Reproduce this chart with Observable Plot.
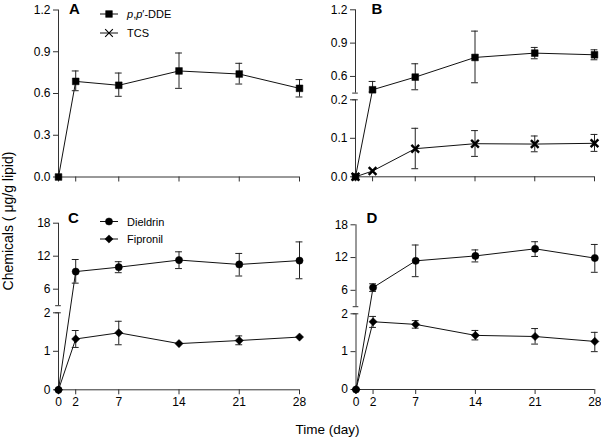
<!DOCTYPE html>
<html><head><meta charset="utf-8">
<script src="https://cdn.jsdelivr.net/npm/d3@7"></script>
<script src="https://cdn.jsdelivr.net/npm/@observablehq/plot@0.6"></script>
<style>
body{margin:0;background:#fff}
#wrap{position:relative;width:601px;height:438px;font-family:"Liberation Sans",Arial,sans-serif}
#wrap svg{position:absolute;left:0;top:0;overflow:visible}
</style>
</head><body><div id="wrap"></div>
<script>
// ---- data ----
const days = [0, 2, 7, 14, 21, 28];

// Panel A
const ddeA    = [0, 0.687, 0.659, 0.762, 0.740, 0.637];
const ddeA_hi = [null, 0.762, 0.747, 0.891, 0.817, 0.700];
const ddeA_lo = [null, 0.620, 0.580, 0.637, 0.668, 0.575];

// Panel B
const ddeB    = [0, 0.480, 0.594, 0.771, 0.810, 0.795];
const ddeB_hi = [null, 0.555, 0.714, 1.008, 0.861, 0.840];
const ddeB_lo = [null, 0.460, 0.480, 0.543, 0.759, 0.750];
const tcsB    = [0, 0.015, 0.073, 0.086, 0.085, 0.087];
const tcsB_hi = [null, null, 0.126, 0.120, 0.106, 0.110];
const tcsB_lo = [null, null, 0.021, 0.053, 0.065, 0.066];

// Panel C
const dieC    = [0, 9.2, 10.0, 11.3, 10.5, 11.2];
const dieC_hi = [null, 11.4, 11.0, 12.8, 12.5, 14.6];
const dieC_lo = [null, 7.1, 9.0, 9.75, 8.4, 7.9];
const fipC    = [0, 1.32, 1.48, 1.20, 1.28, 1.37];
const fipC_hi = [null, 1.54, 1.78, null, 1.40, null];
const fipC_lo = [null, 1.10, 1.17, null, 1.17, null];

// Panel D
const dieD    = [0, 6.5, 11.4, 12.3, 13.6, 11.9];
const dieD_hi = [null, 7.2, 14.3, 13.4, 14.9, 14.4];
const dieD_lo = [null, 5.8, 8.5, 11.2, 12.2, 9.3];
const fipD    = [0, 1.79, 1.72, 1.43, 1.40, 1.27];
const fipD_hi = [null, 1.93, 1.82, 1.56, 1.61, 1.51];
const fipD_lo = [null, 1.64, 1.62, 1.31, 1.20, 1.00];

// tick labels
const yTicksA = [0, 0.3, 0.6, 0.9, 1.2];
const yTicksB = [0, 0.1, 0.2, 0.6, 0.9, 1.2];
const yTicksCD = [0, 1, 2, 6, 12, 18];
const legendAB = ["p,p′-DDE", "TCS"];
const legendCD = ["Dieldrin", "Fipronil"];

// ---- helpers ----
const W = 601, H = 438;
const wrap = document.getElementById("wrap");
const series = (v, lo, hi) => days.map((d, i) => ({day: d, v: v[i], lo: lo[i], hi: hi[i]}));

// brk: piecewise map from data value to a continuous "axis length" coordinate (broken axis)
function panel({xr, y0, brkDomain, brkRange, ticks, fmt, bottom, segs, sers}) {
  const brk = d3.scaleLinear().domain(brkDomain).range(brkRange);
  const total = brkRange[brkRange.length - 1];
  const yTop = y0 - total;
  const capW = 0.4;
  const labels = new Map(ticks.map(t => [brk(t), fmt(t)]));
  const marks = [];
  // axis lines
  for (const [a, b] of segs) marks.push(Plot.ruleX([0], {y1: brk(a), y2: brk(b), stroke: "#333"}));
  if (segs.length > 1) {
    marks.push(Plot.ruleY([brk(segs[0][1]), brk(segs[1][0])], {x1: -0.33, x2: 0.33, stroke: "#333"}));
  }
  marks.push(Plot.ruleY([0], {x1: 0, x2: 28, stroke: "#333"}));
  marks.push(Plot.axisX({ticks: days, tickSize: 5, tickPadding: 3, label: null, stroke: "#333",
    tickFormat: bottom ? (d => String(d)) : (() => ""), fontSize: 12}));
  marks.push(Plot.axisY({ticks: ticks.map(brk), tickSize: 5, tickPadding: 3, label: null, stroke: "#333",
    tickFormat: v => labels.get(v), fontSize: 12}));
  for (const s of sers) {
    const eb = s.data.filter(d => d.hi != null);
    marks.push(Plot.line(s.data, {x: "day", y: d => brk(d.v), stroke: "#111", strokeWidth: 1}));
    marks.push(Plot.ruleX(eb, {x: "day", y1: d => brk(d.lo), y2: d => brk(d.hi), stroke: "#222", strokeWidth: 1}));
    marks.push(Plot.ruleY(eb, {y: d => brk(d.hi), x1: d => d.day - capW, x2: d => d.day + capW, stroke: "#222"}));
    marks.push(Plot.ruleY(eb, {y: d => brk(d.lo), x1: d => d.day - capW, x2: d => d.day + capW, stroke: "#222"}));
  }
  for (const s of sers) {
    marks.push(Plot.dot(s.data, {x: "day", y: d => brk(d.v), symbol: s.symbol, r: s.r,
      fill: s.symbol === "times" ? "none" : "#000",
      stroke: "#000", strokeWidth: s.symbol === "times" ? 2.4 : 0.5}));
  }
  const svg = Plot.plot({
    width: W, height: H,
    marginLeft: xr[0], marginRight: W - xr[1],
    marginTop: yTop, marginBottom: H - y0,
    x: {domain: [0, 28], range: xr},
    y: {domain: [0, total], range: [y0, yTop]},
    style: {background: "transparent", overflow: "visible", fontFamily: '"Liberation Sans", Arial, sans-serif', color: "#000"},
    marks
  });
  wrap.appendChild(svg);
}

const f1 = d3.format(".1f"), f0 = d => String(d);

panel({xr: [58, 299], y0: 176.5, brkDomain: [0, 1.2], brkRange: [0, 167], ticks: yTicksA, fmt: f1, bottom: false,
  segs: [[0, 1.2]],
  sers: [{data: series(ddeA, ddeA_lo, ddeA_hi), symbol: "square", r: 3.8}]});

panel({xr: [355, 594], y0: 176.3, brkDomain: [0, 0.2, 0.45, 1.2], brkRange: [0, 77, 83.7, 167], ticks: yTicksB, fmt: f1, bottom: false,
  segs: [[0, 0.2], [0.45, 1.2]],
  sers: [{data: series(ddeB, ddeB_lo, ddeB_hi), symbol: "square", r: 3.8},
         {data: series(tcsB, tcsB_lo, tcsB_hi), symbol: "times", r: 3.6}]});

panel({xr: [58, 299], y0: 389.3, brkDomain: [0, 2, 3, 18], brkRange: [0, 77, 84.1, 166.6], ticks: yTicksCD, fmt: f0, bottom: true,
  segs: [[0, 2], [3, 18]],
  sers: [{data: series(dieC, dieC_lo, dieC_hi), symbol: "circle", r: 3.6},
         {data: series(fipC, fipC_lo, fipC_hi), symbol: "diamond2", r: 3.7}]});

panel({xr: [355.5, 594.3], y0: 389, brkDomain: [0, 2, 3, 18], brkRange: [0, 75.7, 82.8, 164.7], ticks: yTicksCD, fmt: f0, bottom: true,
  segs: [[0, 2], [3, 18]],
  sers: [{data: series(dieD, dieD_lo, dieD_hi), symbol: "circle", r: 3.6},
         {data: series(fipD, fipD_lo, fipD_hi), symbol: "diamond2", r: 3.7}]});

// ---- annotations: panel letters, legends, axis titles ----
const ov = d3.select(wrap).append("svg").attr("width", W).attr("height", H)
  .style("font-family", '"Liberation Sans", Arial, sans-serif');

[["A", 69, 14], ["B", 371.5, 14], ["C", 68, 223], ["D", 366.5, 223]].forEach(([t, x, y]) =>
  ov.append("text").attr("x", x).attr("y", y).attr("font-size", 15).attr("font-weight", "bold").text(t));

function legendItem(x, y, sym, label, italicP) {
  ov.append("line").attr("x1", x - 9).attr("x2", x + 9).attr("y1", y).attr("y2", y).attr("stroke", "#111");
  const types = {square: d3.symbolSquare, times: d3.symbolTimes, circle: d3.symbolCircle, diamond2: d3.symbolDiamond2};
  const size = {square: 45, times: 40, circle: 40, diamond2: 43}[sym];
  ov.append("path").attr("d", d3.symbol(types[sym], size)()).attr("transform", `translate(${x},${y})`)
    .attr("fill", sym === "times" ? "none" : "#000").attr("stroke", "#000").attr("stroke-width", sym === "times" ? 1.1 : 0.5);
  const t = ov.append("text").attr("x", x + 18).attr("y", y + 4).attr("font-size", 11);
  if (italicP) {
    t.append("tspan").attr("font-style", "italic").text("p");
    t.append("tspan").text(",");
    t.append("tspan").attr("font-style", "italic").text("p");
    t.append("tspan").text(label.slice(3));
  } else t.text(label);
}
legendItem(109, 14, "square", legendAB[0], true);
legendItem(109, 33, "times", legendAB[1], false);
legendItem(109, 221.5, "circle", legendCD[0], false);
legendItem(109, 239, "diamond2", legendCD[1], false);

ov.append("text").attr("x", 327.5).attr("y", 434).attr("text-anchor", "middle").attr("font-size", 13.5).text("Time (day)");
ov.append("text").attr("transform", "translate(13,221) rotate(-90)").attr("text-anchor", "middle")
  .attr("font-size", 14).text("Chemicals ( μg/g lipid)");
</script></body></html>
